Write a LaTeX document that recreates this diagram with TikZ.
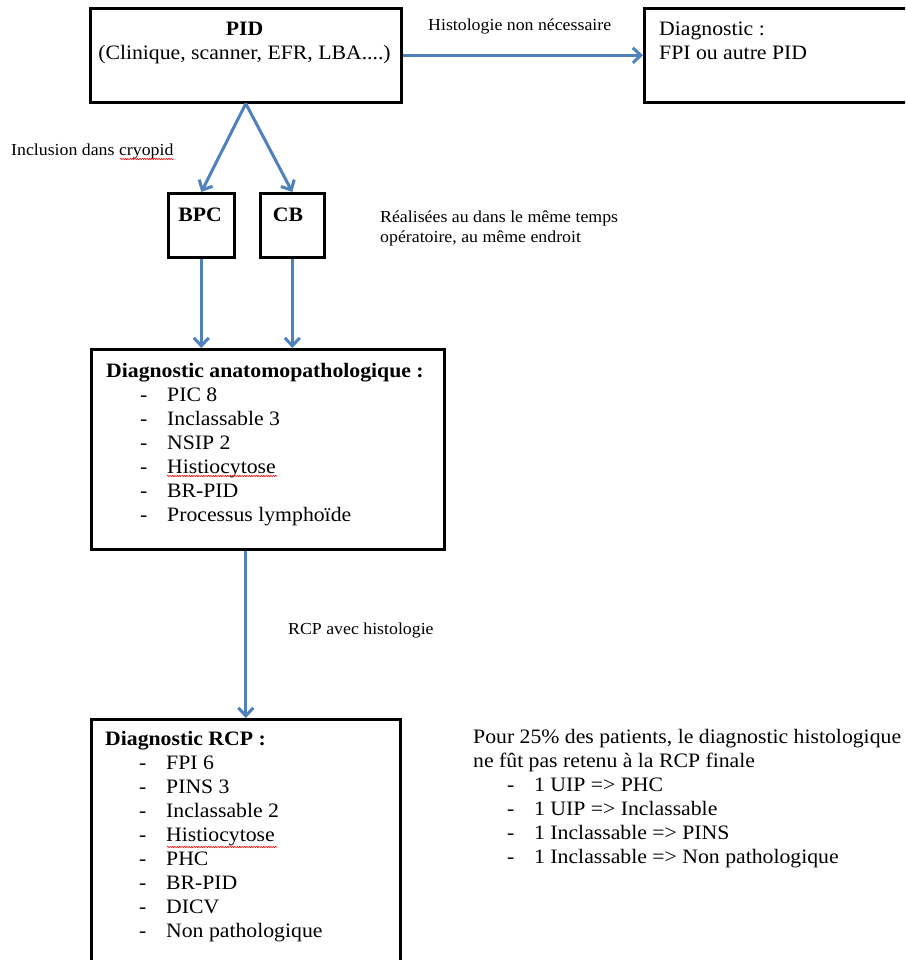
\documentclass[tikz,border=0pt]{standalone}
\usepackage{fontspec}
\setmainfont{Liberation Serif}[FakeStretch=1.06]
\usetikzlibrary{arrows.meta,decorations.pathmorphing}
\definecolor{fleche}{HTML}{4F81BD}
\newcommand{\puce}{\hspace*{34pt}\makebox[27pt][l]{-}}

\begin{document}
\begin{tikzpicture}[x=1pt,y=-1pt,
    >={Straight Barb[length=8pt,width=15pt]},
    boite/.style={draw, line width=2.6pt, anchor=north west, inner sep=0pt},
    fl/.style={->, line width=3pt, fleche},
    grand/.style={font=\fontsize{20.5}{24}\selectfont, inner sep=0pt, align=left},
    petit/.style={font=\fontsize{16.8}{20}\selectfont, inner sep=0pt, align=left},
    souligne/.style={red, line width=0.6pt, decorate,
      decoration={snake, amplitude=0.6pt, segment length=2.4pt}}]
                % 0) Page
                \fill[white] (0,0) rectangle (905,960);
                \useasboundingbox (0,0) rectangle (905,960);
                \clip (0,0) rectangle (905,960);
                % 1) Boxes
                \node[boite, minimum width=311pt, minimum height=94pt] (pid) at (89,7) {};
                \node[boite, minimum width=300pt, minimum height=94pt] (diag) at (643,7) {};
                \node[boite, minimum width=66pt, minimum height=64pt] (bpc) at (167,192) {};
                \node[boite, minimum width=64pt, minimum height=64pt] (cb) at (259,192) {};
                \node[boite, minimum width=353pt, minimum height=200pt] (anato) at (90,348) {};
                \node[boite, minimum width=309pt, minimum height=300pt] (rcp) at (90,718) {};
                % 2) Texts in the boxes (base = last line)
                \node[grand, align=center, anchor=base] (pidtxt) at (244.5,60)
                     {\textbf{PID}\\(Clinique, scanner, EFR, LBA....)};
                \node[grand, anchor=base west] (diagtxt) at (659,60)
                     {Diagnostic :\\FPI ou autre PID};
                \node[grand, anchor=base] (bpctxt) at (200,221) {\textbf{BPC}};
                \node[grand, anchor=base] (cbtxt) at (288,221) {\textbf{CB}};
                \node[grand, anchor=base west] (anatotxt) at (106,521)
                     {\textbf{Diagnostic anatomopathologique :}\\
                      \puce PIC 8\\
                      \puce Inclassable 3\\
                      \puce NSIP 2\\
                      \puce Histiocytose\\
                      \puce BR-PID\\
                      \puce Processus lymphoïde};
                \node[grand, anchor=base west] (rcptxt) at (105,937)
                     {\textbf{Diagnostic RCP :}\\
                      \puce FPI 6\\
                      \puce PINS 3\\
                      \puce Inclassable 2\\
                      \puce Histiocytose\\
                      \puce PHC\\
                      \puce BR-PID\\
                      \puce DICV\\
                      \puce Non pathologique};
                % 3) Free texts
                \node[petit, anchor=base west] (histo) at (428,31) {Histologie non nécessaire};
                \node[petit, anchor=base west] (inclusion) at (11,156) {Inclusion dans cryopid};
                \node[petit, anchor=base west] (realisees) at (380,242)
                     {Réalisées au dans le même temps\\opératoire, au même endroit};
                \node[petit, anchor=base west] (avechisto) at (288,634) {RCP avec histologie};
                \node[grand, anchor=base west] (note) at (473,863)
                     {Pour 25\% des patients, le diagnostic histologique\\
                      ne fût pas retenu à la RCP finale\\
                      \puce 1 UIP => PHC\\
                      \puce 1 UIP => Inclassable\\
                      \puce 1 Inclassable => PINS\\
                      \puce 1 Inclassable => Non pathologique};
                % 4) Arrows
                \draw[fl] (pid.east) -- (diag.west);
                \draw[fl] (pid.south) -- (bpc.north);
                \draw[fl] (pid.south) -- (cb.north);
                \draw[fl] (bpc.south) -- (bpc.south |- anato.north);
                \draw[fl] (cb.south) -- (cb.south |- anato.north);
                \draw[fl] (anato.south -| pid.south) -- (rcp.north -| pid.south);
                % 5) Spelling marks
                \draw[souligne] (120,159) -- (174,159);
                \draw[souligne] (167,476) -- (277,476);
                \draw[souligne] (167,847) -- (277,847);
\end{tikzpicture}
\end{document}
